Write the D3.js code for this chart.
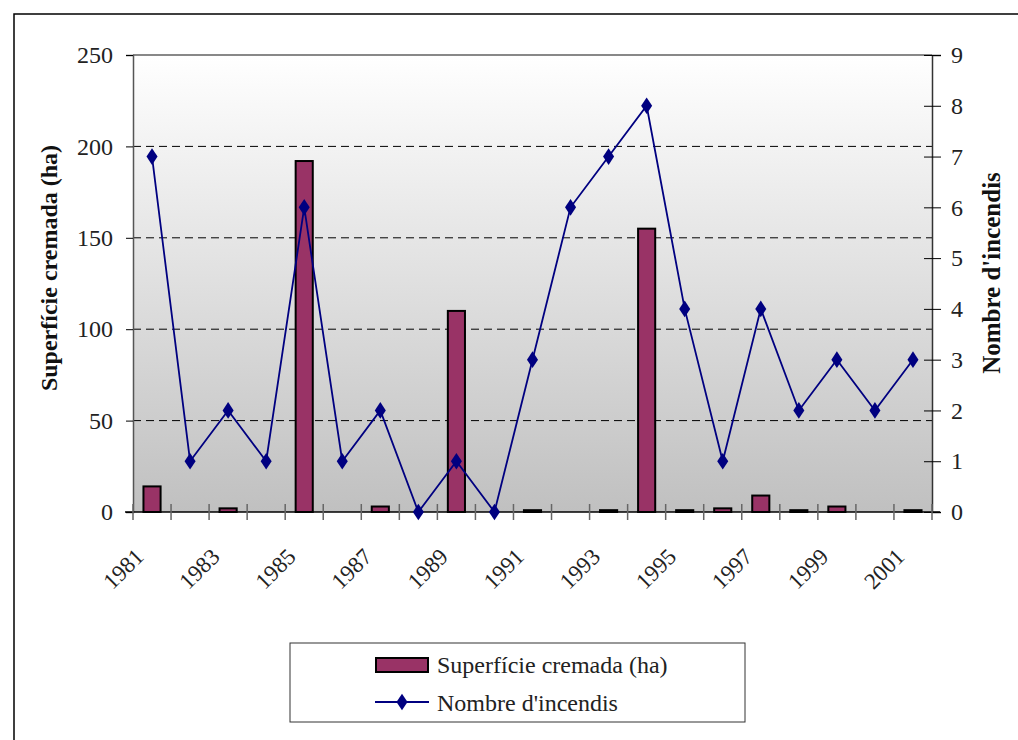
<!DOCTYPE html>
<html>
<head>
<meta charset="utf-8">
<script src="https://cdn.jsdelivr.net/npm/d3@7"></script>
<style>
  body { margin: 0; background: #fff; }
  svg { display: block; }
</style>
</head>
<body>
<div id="chart"></div>
<script>
var years = ["1981","1982","1983","1984","1985","1986","1987","1988","1989","1990",
             "1991","1992","1993","1994","1995","1996","1997","1998","1999","2000","2001"];
var area = [14, 0, 2, 0, 192, 0, 3, 0, 110, 0, 1, 0, 1, 155, 1, 2, 9, 1, 3, 0, 1];
var fires = [7, 1, 2, 1, 6, 1, 2, 0, 1, 0, 3, 6, 7, 8, 4, 1, 4, 2, 3, 2, 3];
var leftTicks = [0, 50, 100, 150, 200, 250];
var rightTicks = [0, 1, 2, 3, 4, 5, 6, 7, 8, 9];
var yearLabels = ["1981","1983","1985","1987","1989","1991","1993","1995","1997","1999","2001"];

var W = 1018, H = 740;
var pLeft = 133, pRight = 932, pTop = 55, pBottom = 512;
var font = "'Liberation Serif', 'DejaVu Serif', serif";

var svg = d3.select("#chart").append("svg")
    .attr("width", W)
    .attr("height", H)
    .attr("font-family", font);

// outer frame
svg.append("rect")
    .attr("x", 14).attr("y", 14)
    .attr("width", W + 10).attr("height", H + 10)
    .attr("fill", "none").attr("stroke", "#000").attr("stroke-width", 1.5);

var x = d3.scaleBand().domain(years).range([pLeft, pRight]);
var yL = d3.scaleLinear().domain([0, 250]).range([pBottom, pTop]);
var yR = d3.scaleLinear().domain([0, 9]).range([pBottom, pTop]);

var grad = svg.append("defs").append("linearGradient")
    .attr("id", "bg").attr("x1", 0).attr("y1", 0).attr("x2", 0).attr("y2", 1);
grad.append("stop").attr("offset", "0%").attr("stop-color", "#ffffff");
grad.append("stop").attr("offset", "100%").attr("stop-color", "#c0c0c0");

svg.append("rect")
    .attr("x", pLeft).attr("y", pTop)
    .attr("width", pRight - pLeft).attr("height", pBottom - pTop)
    .attr("fill", "url(#bg)");

// top border of plot
svg.append("line")
    .attr("x1", pLeft).attr("x2", pRight)
    .attr("y1", yL(250)).attr("y2", yL(250))
    .attr("stroke", "#888").attr("stroke-width", 2);

// dashed grid
svg.append("g").selectAll("line")
    .data(leftTicks.filter(d => d > 0 && d < 250))
    .join("line")
        .attr("x1", pLeft).attr("x2", pRight)
        .attr("y1", d => yL(d)).attr("y2", d => yL(d))
        .attr("stroke", "#000").attr("stroke-width", 1)
        .attr("stroke-dasharray", "8,5");

// bars
var bw = x.bandwidth() * 0.45;
var barData = years.map((y, i) => ({year: y, v: area[i]})).filter(d => d.v > 0);
svg.append("g").selectAll("rect")
    .data(barData)
    .join("rect")
        .attr("x", d => x(d.year) + x.bandwidth() / 2 - bw / 2)
        .attr("y", d => yL(d.v))
        .attr("width", bw)
        .attr("height", d => pBottom - yL(d.v))
        .attr("fill", "#993366")
        .attr("stroke", "#000")
        .attr("stroke-width", 2);

// left axis
var axL = svg.append("g")
    .attr("transform", `translate(${pLeft},0)`)
    .call(d3.axisLeft(yL).tickValues(leftTicks).tickSize(7).tickPadding(13));
axL.select(".domain").attr("stroke", "#555").attr("stroke-width", 1.5);
axL.selectAll(".tick line").attr("stroke", "#000");
axL.selectAll("text").attr("font-family", font).attr("font-size", 24).attr("fill", "#222");

// right axis
var axR = svg.append("g")
    .attr("transform", `translate(${pRight},0)`)
    .call(d3.axisRight(yR).tickValues(rightTicks).tickSize(9).tickPadding(10));
axR.select(".domain").attr("stroke", "#333").attr("stroke-width", 1.5);
axR.selectAll(".tick line").attr("x1", -8).attr("stroke", "#000");
axR.selectAll("text").attr("font-family", font).attr("font-size", 24).attr("fill", "#222");

// bottom axis
svg.append("line")
    .attr("x1", pLeft - 8).attr("x2", pRight + 8)
    .attr("y1", pBottom).attr("y2", pBottom)
    .attr("stroke", "#000").attr("stroke-width", 1.5);
var bounds = years.map(d => x(d)).concat([pRight]);
svg.append("g").selectAll("line")
    .data(bounds)
    .join("line")
        .attr("x1", d => d).attr("x2", d => d)
        .attr("y1", pBottom - 8).attr("y2", pBottom + 8)
        .attr("stroke", "#666").attr("stroke-width", 1.5);

svg.append("g").selectAll("text")
    .data(yearLabels)
    .join("text")
        .attr("transform", d => `translate(${x(d) + x.bandwidth() / 2 - 7},${pBottom + 46}) rotate(-45)`)
        .attr("text-anchor", "end")
        .attr("font-size", 23)
        .attr("fill", "#222")
        .text(d => d);

// line series
var line = d3.line()
    .x((d, i) => x(years[i]) + x.bandwidth() / 2)
    .y(d => yR(d));
svg.append("path")
    .datum(fires)
    .attr("d", line)
    .attr("fill", "none")
    .attr("stroke", "#000080")
    .attr("stroke-width", 1.8);

var diamond = d3.symbol().type(d3.symbolDiamond).size(80);
svg.append("g").selectAll("path")
    .data(fires)
    .join("path")
        .attr("transform", (d, i) => `translate(${x(years[i]) + x.bandwidth() / 2},${yR(d)}) scale(1.15,1)`)
        .attr("d", diamond)
        .attr("fill", "#000080");

// axis titles
svg.append("text")
    .attr("transform", `translate(57,268) rotate(-90)`)
    .attr("text-anchor", "middle")
    .attr("font-size", 24).attr("font-weight", "bold")
    .attr("fill", "#111")
    .text("Superfície cremada (ha)");
svg.append("text")
    .attr("transform", `translate(1000,273) rotate(-90)`)
    .attr("text-anchor", "middle")
    .attr("font-size", 25).attr("font-weight", "bold")
    .attr("fill", "#111")
    .text("Nombre d'incendis");

// legend
var lg = svg.append("g");
lg.append("rect")
    .attr("x", 290).attr("y", 643).attr("width", 455).attr("height", 79)
    .attr("fill", "#fff").attr("stroke", "#333").attr("stroke-width", 1);
lg.append("rect")
    .attr("x", 376).attr("y", 658).attr("width", 52).attr("height", 14)
    .attr("fill", "#993366").attr("stroke", "#000").attr("stroke-width", 2);
lg.append("text")
    .attr("x", 437).attr("y", 673)
    .attr("font-size", 24).attr("fill", "#222")
    .text("Superfície cremada (ha)");
lg.append("line")
    .attr("x1", 375).attr("x2", 429).attr("y1", 702).attr("y2", 702)
    .attr("stroke", "#000080").attr("stroke-width", 1.8);
lg.append("path")
    .attr("transform", "translate(402,702) scale(1.15,1)")
    .attr("d", diamond)
    .attr("fill", "#000080");
lg.append("text")
    .attr("x", 437).attr("y", 711)
    .attr("font-size", 24).attr("fill", "#222")
    .text("Nombre d'incendis");
</script>
</body>
</html>
